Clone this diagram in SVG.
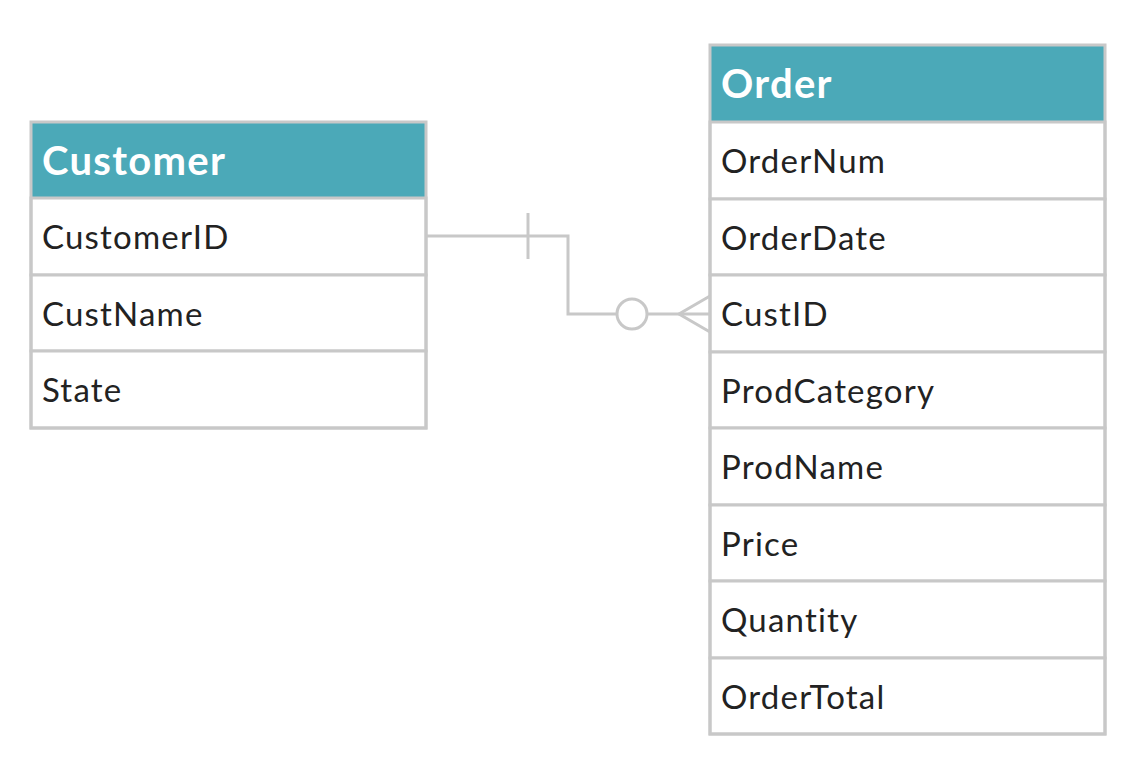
<svg xmlns="http://www.w3.org/2000/svg" width="1136" height="781" viewBox="0 0 1136 781">
<style>
.hdr{fill:#4ba9b8}
.cell{fill:#ffffff;stroke:#c8c8c8;stroke-width:3}
.frame{fill:none;stroke:#c8c8c8;stroke-width:3}
.title{font-family:Lato,"Noto Sans",sans-serif;font-weight:bold;font-size:40px;letter-spacing:1.3px;fill:#ffffff}
.field{font-family:Lato,"Noto Sans",sans-serif;font-size:33px;letter-spacing:1.2px;fill:#222222}
.conn{fill:none;stroke:#c8c8c8;stroke-width:3}
</style>
<rect width="1136" height="781" fill="#ffffff"/>
<g id="customer">
<rect class="hdr" x="31" y="122" width="395" height="76"/>
<rect class="cell" x="31" y="198" width="395" height="77"/>
<rect class="cell" x="31" y="275" width="395" height="76"/>
<rect class="cell" x="31" y="351" width="395" height="77"/>
<rect class="frame" x="31" y="122" width="395" height="306"/>
<text class="title" x="42" y="175">Customer</text>
<text class="field" x="42" y="249">CustomerID</text>
<text class="field" x="42" y="326">CustName</text>
<text class="field" x="42" y="402">State</text>
</g>
<g id="order">
<rect class="hdr" x="710" y="45" width="395" height="77"/>
<rect class="cell" x="710" y="122" width="395" height="77"/>
<rect class="cell" x="710" y="199" width="395" height="76"/>
<rect class="cell" x="710" y="275" width="395" height="77"/>
<rect class="cell" x="710" y="352" width="395" height="76"/>
<rect class="cell" x="710" y="428" width="395" height="77"/>
<rect class="cell" x="710" y="505" width="395" height="76"/>
<rect class="cell" x="710" y="581" width="395" height="77"/>
<rect class="cell" x="710" y="658" width="395" height="76"/>
<rect class="frame" x="710" y="45" width="395" height="689"/>
<text class="title" x="721" y="98">Order</text>
<text class="field" x="721" y="173">OrderNum</text>
<text class="field" x="721" y="250">OrderDate</text>
<text class="field" x="721" y="326">CustID</text>
<text class="field" x="721" y="403">ProdCategory</text>
<text class="field" x="721" y="479">ProdName</text>
<text class="field" x="721" y="556">Price</text>
<text class="field" x="721" y="632">Quantity</text>
<text class="field" x="721" y="709">OrderTotal</text>
</g>
<g id="connectors">
<path class="conn" d="M426 236 H568 V314 H617 M647 314 H710"/>
<line class="conn" x1="528" y1="213" x2="528" y2="259"/>
<circle class="conn" cx="632" cy="314" r="15"/>
<path class="conn" d="M710 296 L679 314 L710 332"/>
</g>
</svg>
